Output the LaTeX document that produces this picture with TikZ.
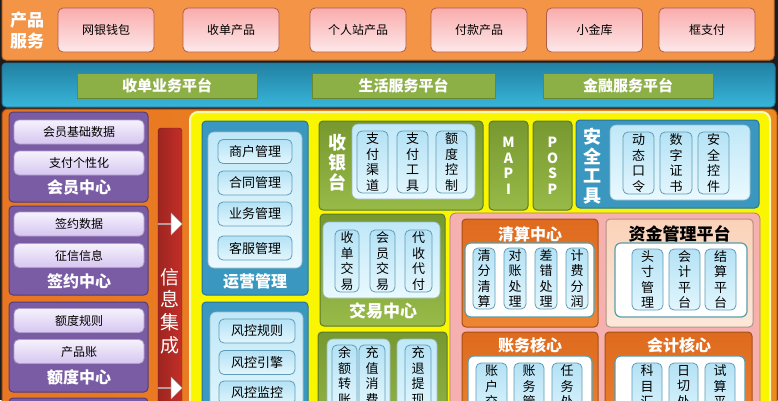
\documentclass[tikz,border=0pt]{standalone}
\usepackage{fontspec}
\setmainfont{Noto Sans CJK SC}
\usetikzlibrary{shapes.arrows}

\definecolor{bgdark}{RGB}{28,28,28}
\definecolor{prodorange}{RGB}{243,148,70}
\definecolor{prodline}{RGB}{196,108,40}
\definecolor{pinktop}{RGB}{250,172,172}
\definecolor{pinkbot}{RGB}{253,232,234}
\definecolor{pinkline}{RGB}{176,92,72}
\definecolor{bluetop}{RGB}{34,128,162}
\definecolor{bluebot}{RGB}{56,182,218}
\definecolor{platgreen}{RGB}{140,176,70}
\definecolor{platline}{RGB}{104,136,48}
\definecolor{frameorange}{RGB}{232,118,35}
\definecolor{purplepanel}{RGB}{122,92,165}
\definecolor{purpleline}{RGB}{84,60,120}
\definecolor{lavtop}{RGB}{246,242,253}
\definecolor{lavbot}{RGB}{214,198,240}
\definecolor{redbar}{RGB}{196,46,40}
\definecolor{yellowfill}{RGB}{250,246,0}
\definecolor{tealpanel}{RGB}{58,152,192}
\definecolor{tealline}{RGB}{38,116,150}
\definecolor{skytop}{RGB}{192,232,248}
\definecolor{skybot}{RGB}{234,249,254}
\definecolor{itemtop}{RGB}{180,226,245}
\definecolor{itembot}{RGB}{226,246,253}
\definecolor{itemline}{RGB}{96,156,182}
\definecolor{greentop}{RGB}{118,152,48}
\definecolor{greenbot}{RGB}{152,186,72}
\definecolor{greenline}{RGB}{92,122,38}
\definecolor{pinkpanel}{RGB}{246,176,176}
\definecolor{coretop}{RGB}{222,106,30}
\definecolor{corebot}{RGB}{238,134,52}
\definecolor{peachtop}{RGB}{251,210,184}
\definecolor{peachbot}{RGB}{252,232,218}
\definecolor{whiteline}{RGB}{88,158,172}

\begin{document}
\begin{tikzpicture}[x=1pt,y=-1pt]
\useasboundingbox (0,0) rectangle (778,400);
\clip (0,0) rectangle (778,400);

\tikzset{PanelStyle/.style = {rounded corners=4pt, line width=1pt},
 BoxStyle/.style = {rounded corners=5pt, line width=0.8pt, inner sep=0pt,
   font=\fontsize{12}{14}\selectfont, text=black},
 ColStyle/.style = {rounded corners=5pt, line width=0.8pt, inner sep=0pt,
   align=center, font=\fontsize{13}{15.5}\selectfont, text=black,
   top color=itemtop, bottom color=itembot, draw=itemline},
 TitleStyle/.style = {text=white, font=\fontsize{16}{18}\bfseries\selectfont, inner sep=0pt} }

\fill[bgdark] (0,0) rectangle (778,400);

% product band
\draw[PanelStyle, fill=prodorange, draw=prodline] (2,-8) rectangle (774,60);
\node[TitleStyle, align=center, font=\fontsize{17}{21}\bfseries\selectfont] (prodTitle) at (27,31) {产品\\服务};
\tikzset{ProdStyle/.style = {BoxStyle, top color=pinktop, bottom color=pinkbot, draw=pinkline,
  minimum width=96pt, minimum height=44pt} }
\node[ProdStyle] (prodA) at (106,30) {网银钱包};
\node[ProdStyle] (prodB) at (231,30) {收单产品};
\node[ProdStyle] (prodC) at (358,30) {个人站产品};
\node[ProdStyle] (prodD) at (479,30) {付款产品};
\node[ProdStyle] (prodE) at (594.5,30) {小金库};
\node[ProdStyle] (prodF) at (707,30) {框支付};

% platform band
\draw[PanelStyle, top color=bluetop, bottom color=bluebot, draw=tealline] (2,63) rectangle (775,107);
\tikzset{PlatStyle/.style = {fill=platgreen, draw=platline, line width=0.8pt, inner sep=0pt,
  minimum height=25pt, text=white, font=\fontsize{15}{17}\bfseries\selectfont} }
\node[PlatStyle, minimum width=180pt] (platA) at (167,85.5) {收单业务平台};
\node[PlatStyle, minimum width=183pt] (platB) at (403.5,85.5) {生活服务平台};
\node[PlatStyle, minimum width=170pt] (platC) at (628,85.5) {金融服务平台};

% main frame
\draw[PanelStyle, rounded corners=6pt, left color=frameorange, right color=frameorange!85!yellow,
  draw=frameorange!70!black] (2,109) rectangle (777,430);

% member side
\tikzset{SideStyle/.style = {PanelStyle, fill=purplepanel, draw=purpleline},
 LavStyle/.style = {BoxStyle, top color=lavtop, bottom color=lavbot, draw=lavbot!70!purpleline,
  minimum width=130pt, minimum height=24pt} }
\draw[SideStyle] (9,112) rectangle (148,202);
\node[LavStyle] (memBase) at (79,132) {会员基础数据};
\node[LavStyle] (memPay) at (79,163) {支付个性化};
\node[TitleStyle] (memTitle) at (79,187) {会员中心};
\draw[SideStyle] (9,206) rectangle (148,295);
\node[LavStyle] (signData) at (79,224) {签约数据};
\node[LavStyle] (signCredit) at (79,255.5) {征信信息};
\node[TitleStyle] (signTitle) at (79,281) {签约中心};
\draw[SideStyle] (9,302) rectangle (148,392);
\node[LavStyle] (quotaRule) at (79,320.5) {额度规则};
\node[LavStyle] (quotaAcct) at (79,351.5) {产品账};
\node[TitleStyle] (quotaTitle) at (79,377) {额度中心};
\draw[SideStyle] (9,398) rectangle (148,440);

% info bar
\draw[rounded corners=3pt, left color=redbar!80!black, right color=redbar, draw=redbar!60!black] (158,128) rectangle (182,430);
\node[text=white, align=center, inner sep=0pt, font=\fontsize{19}{22.7}\selectfont] (infoTitle) at (170,311) {信\\息\\集\\成};
\tikzset{ArrowStyle/.style = {single arrow, fill=white, draw=gray!60, inner sep=0pt,
  minimum height=24pt, minimum width=22pt, single arrow head extend=6pt} }
\node[ArrowStyle] (infoArrowA) at (170,224) {};
\node[ArrowStyle] (infoArrowB) at (170,388) {};

% yellow frame
\draw[rounded corners=8pt, fill=yellowfill, draw=yellow!30!white, line width=2pt] (190,112) rectangle (770,430);

% operations
\tikzset{TealStyle/.style = {PanelStyle, fill=tealpanel, draw=tealline},
 SkyStyle/.style = {rounded corners=6pt, top color=skytop, bottom color=skybot, draw=skytop!80!black, line width=0.6pt},
 OpsStyle/.style = {BoxStyle, top color=itemtop, bottom color=itembot, draw=itemline,
  minimum width=74pt, minimum height=24pt, font=\fontsize{13}{15}\selectfont} }
\draw[TealStyle] (202,121) rectangle (308,295);
\draw[SkyStyle] (208,132) rectangle (302,268);
\node[OpsStyle] (opsMerchant) at (255,151.5) {商户管理};
\node[OpsStyle] (opsContract) at (255,183) {合同管理};
\node[OpsStyle] (opsBusiness) at (255,214) {业务管理};
\node[OpsStyle] (opsService) at (255,248) {客服管理};
\node[TitleStyle] (opsTitle) at (255,281) {运营管理};

% risk
\draw[TealStyle] (202,302) rectangle (308,440);
\draw[SkyStyle] (210,312) rectangle (303,440);
\node[OpsStyle, minimum width=76pt] (riskRule) at (257,331) {风控规则};
\node[OpsStyle, minimum width=76pt] (riskEngine) at (257,362.5) {风控引擎};
\node[OpsStyle, minimum width=76pt] (riskMonitor) at (257,393) {风控监控};

% cashier
\tikzset{GreenStyle/.style = {PanelStyle, top color=greentop, bottom color=greenbot, draw=greenline} }
\draw[GreenStyle] (319,121) rectangle (483,210);
\node[TitleStyle, align=center, font=\fontsize{18}{20}\bfseries\selectfont] (cashTitle) at (337,163) {收\\银\\台};
\draw[SkyStyle] (352,124) rectangle (475,199);
\node[ColStyle, minimum width=31pt, minimum height=62pt] (cashChannel) at (372.5,162) {支\\付\\渠\\道};
\node[ColStyle, minimum width=31pt, minimum height=62pt] (cashTool) at (412.5,162) {支\\付\\工\\具};
\node[ColStyle, minimum width=31pt, minimum height=62pt] (cashQuota) at (451.5,162) {额\\度\\控\\制};

% gateways
\draw[GreenStyle] (489,121) rectangle (528,210);
\node[TitleStyle, align=center, font=\fontsize{14}{15.5}\bfseries\selectfont] (mapiTitle) at (508.5,166) {M\\A\\P\\I};
\draw[GreenStyle] (533,121) rectangle (572,210);
\node[TitleStyle, align=center, font=\fontsize{14}{15.5}\bfseries\selectfont] (pospTitle) at (552.5,166) {P\\O\\S\\P};

% security
\draw[TealStyle] (576,120) rectangle (759,208);
\node[TitleStyle, align=center, font=\fontsize{18}{19.5}\bfseries\selectfont] (secTitle) at (592,166) {安\\全\\工\\具};
\draw[SkyStyle] (610,125) rectangle (750,200);
\node[ColStyle, minimum width=31pt, minimum height=62pt] (secToken) at (638.5,163) {动\\态\\口\\令};
\node[ColStyle, minimum width=32pt, minimum height=62pt] (secCert) at (676,163) {数\\字\\证\\书};
\node[ColStyle, minimum width=31pt, minimum height=62pt] (secCtrl) at (713.5,163) {安\\全\\控\\件};

% trade center
\draw[GreenStyle] (320,214) rectangle (445,326);
\draw[SkyStyle] (323,222) rectangle (440,298);
\node[ColStyle, minimum width=24pt, minimum height=62pt] (tradeAcq) at (347,261) {收\\单\\交\\易};
\node[ColStyle, minimum width=25pt, minimum height=62pt] (tradeMem) at (382.5,261) {会\\员\\交\\易};
\node[ColStyle, minimum width=27pt, minimum height=62pt] (tradeAgent) at (418.5,261) {代\\收\\代\\付};
\node[TitleStyle, font=\fontsize{17}{19}\bfseries\selectfont] (tradeTitle) at (383,311) {交易中心};

% balance
\draw[GreenStyle] (318,332) rectangle (447,440);
\draw[SkyStyle] (327,339) rectangle (390,440);
\node[ColStyle, minimum width=25pt, minimum height=62pt] (balTransfer) at (344.5,376) {余\\额\\转\\账};
\node[ColStyle, minimum width=26pt, minimum height=62pt] (balRecharge) at (372,376) {充\\值\\消\\费};
\draw[SkyStyle] (397,339) rectangle (437,440);
\node[ColStyle, minimum width=26pt, minimum height=62pt] (balRefund) at (418,376) {充\\退\\提\\现};

% settlement area
\draw[rounded corners=6pt, fill=pinkpanel, draw=pinkpanel!70!black, line width=0.8pt] (450,213) rectangle (760,440);
\tikzset{CoreStyle/.style = {PanelStyle, top color=coretop, bottom color=corebot, draw=coretop!75!black},
 WhiteStyle/.style = {rounded corners=6pt, fill=white, draw=whiteline, line width=1.2pt} }
\draw[CoreStyle] (462,219) rectangle (598,327);
\node[TitleStyle] (clearTitle) at (530,234) {清算中心};
\draw[WhiteStyle] (465,243) rectangle (594,317);
\node[ColStyle, minimum width=22pt, minimum height=61pt] (clearSplit) at (484,278.5) {清\\分\\清\\算};
\node[ColStyle, minimum width=22pt, minimum height=61pt] (clearRecon) at (515,278.5) {对\\账\\处\\理};
\node[ColStyle, minimum width=22pt, minimum height=61pt] (clearError) at (546,278.5) {差\\错\\处\\理};
\node[ColStyle, minimum width=22pt, minimum height=61pt] (clearFee) at (577,278.5) {计\\费\\分\\润};

\draw[PanelStyle, top color=peachtop, bottom color=peachbot, draw=peachtop!70!black] (606,219) rectangle (753,327);
\node[TitleStyle, text=black, font=\fontsize{17}{19}\bfseries\selectfont] (fundTitle) at (679.5,234) {资金管理平台};
\draw[WhiteStyle] (615,243) rectangle (747,317);
\node[ColStyle, minimum width=31pt, minimum height=61pt] (fundPos) at (647.5,279.5) {头\\寸\\管\\理};
\node[ColStyle, minimum width=31pt, minimum height=61pt] (fundAcct) at (684.5,279.5) {会\\计\\平\\台};
\node[ColStyle, minimum width=31pt, minimum height=61pt] (fundSettle) at (720.5,279.5) {结\\算\\平\\台};

\draw[CoreStyle] (462,332) rectangle (598,440);
\node[TitleStyle] (ledgerTitle) at (530,345) {账务核心};
\draw[WhiteStyle] (468,356) rectangle (592,440);
\node[ColStyle, minimum width=31pt, minimum height=62pt] (ledgerAcct) at (491.5,394) {账\\户\\交\\易};
\node[ColStyle, minimum width=30pt, minimum height=62pt] (ledgerMgmt) at (529,394) {账\\务\\管\\理};
\node[ColStyle, minimum width=30pt, minimum height=62pt] (ledgerTask) at (567,394) {任\\务\\处\\理};

\draw[CoreStyle] (605,332) rectangle (752,440);
\node[TitleStyle] (acctTitle) at (679,345) {会计核心};
\draw[WhiteStyle] (615,356) rectangle (745,440);
\node[ColStyle, minimum width=30pt, minimum height=62pt] (acctSubject) at (647,394) {科\\目\\汇\\总};
\node[ColStyle, minimum width=29pt, minimum height=62pt] (acctDaily) at (683.5,394) {日\\切\\处\\理};
\node[ColStyle, minimum width=30pt, minimum height=62pt] (acctTrial) at (720,394) {试\\算\\平\\衡};

\end{tikzpicture}
\end{document}
